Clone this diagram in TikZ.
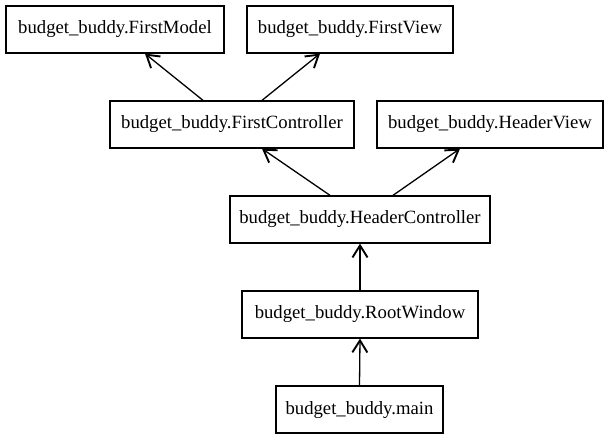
\documentclass[tikz,border=0pt]{standalone}
\usepackage{fontspec}
\setmainfont{Liberation Serif}
\usetikzlibrary{arrows.meta}
\begin{document}
\begin{tikzpicture}[x=1pt,y=-1pt,
  box/.style={draw,line width=1.3pt,minimum height=47pt,inner sep=0pt,text height=13.5pt,text depth=4.5pt,font=\fontsize{18.7}{22}\selectfont},
  dep/.style={line width=1.3pt,-{Straight Barb[length=12pt,width=15pt,line width=1.9pt]}}]
\useasboundingbox (0,0) rectangle (610,443);
\node[box,minimum width=218pt] (fm) at (115,29.5) {budget\_buddy.FirstModel};
\node[box,minimum width=206pt] (fv) at (350,29.5) {budget\_buddy.FirstView};
\node[box,minimum width=244pt] (fc) at (232,124.5) {budget\_buddy.FirstController};
\node[box,minimum width=226pt] (hv) at (490,124.5) {budget\_buddy.HeaderView};
\node[box,minimum width=260pt] (hc) at (360,219.5) {budget\_buddy.HeaderController};
\node[box,minimum width=236pt] (rw) at (360,314.5) {budget\_buddy.RootWindow};
\node[box,minimum width=167pt] (mn) at (359.5,409.5) {budget\_buddy.main};
\draw[dep] ([xshift=-29pt]fc.north) -- ([xshift=30pt]fm.south);
\draw[dep] ([xshift=30pt]fc.north) -- ([xshift=-30pt]fv.south);
\draw[dep] ([xshift=-30pt]hc.north) -- ([xshift=30pt]fc.south);
\draw[dep] ([xshift=33pt]hc.north) -- ([xshift=-30pt]hv.south);
\draw[dep] (rw.north) -- (hc.south);
\draw[dep] (mn.north) -- (rw.south);
\end{tikzpicture}
\end{document}
